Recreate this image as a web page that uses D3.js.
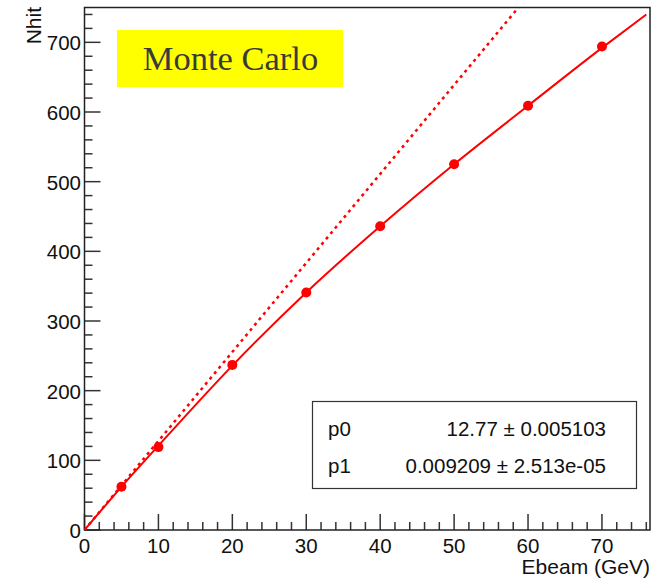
<!DOCTYPE html>
<html>
<head>
<meta charset="utf-8">
<script src="https://cdn.jsdelivr.net/npm/d3@7"></script>
<style>
  body { margin: 0; background: #fff; }
  svg text { font-family: "Liberation Sans", Arial, sans-serif; fill: #111; }
</style>
</head>
<body>
<div id="viz-container"></div>
<script>
// measured points (Ebeam in GeV, Nhit)
const pointE = [5, 10, 20, 30, 40, 50, 60, 70];
const pointN = [62, 119, 237, 341, 436, 525, 609, 694];

// fitted curve
const fitE = [0, 5, 10, 20, 30, 40, 50, 60, 70, 76];
const fitN = [0, 62, 121, 236, 341, 436, 525, 609, 692, 740];

// linear extrapolation (dashed)
const lineE = [0, 58.7];
const lineN = [0, 750];

const xTicks = [0, 10, 20, 30, 40, 50, 60, 70];
const yTicks = [0, 100, 200, 300, 400, 500, 600, 700];

const statNames = ["p0", "p1"];
const statValues = ["12.77 \u00b1 0.005103", "0.009209 \u00b1 2.513e-05"];

const width = 664, height = 580;
const frameL = 84.5, frameR = 650, frameT = 7.5, frameB = 530;

const svg = d3.select("#viz-container")
    .append("svg")
    .attr("width", width)
    .attr("height", height);

const x = d3.scaleLinear().domain([0, 76.5]).range([frameL, frameR]);
const y = d3.scaleLinear().domain([0, 750]).range([frameB, frameT]);

svg.append("defs").append("clipPath").attr("id", "frame-clip")
    .append("rect")
    .attr("x", frameL).attr("y", frameT)
    .attr("width", frameR - frameL).attr("height", frameB - frameT);

// minor + major ticks drawn inside the frame, ROOT style
const xMinor = d3.range(0, 76.5, 2).filter(v => v % 10 !== 0);
const yMinor = d3.range(0, 750, 20).filter(v => v % 100 !== 0);

const ax = svg.append("g").attr("class", "axes").attr("stroke", "#333").attr("stroke-width", 1.5);

ax.selectAll("line.xmaj").data(xTicks).join("line")
    .attr("x1", d => x(d)).attr("x2", d => x(d))
    .attr("y1", frameB).attr("y2", frameB - 16);
ax.selectAll("line.xmin").data(xMinor).join("line")
    .attr("x1", d => x(d)).attr("x2", d => x(d))
    .attr("y1", frameB).attr("y2", frameB - 8);
ax.selectAll("line.ymaj").data(yTicks).join("line")
    .attr("y1", d => y(d)).attr("y2", d => y(d))
    .attr("x1", frameL).attr("x2", frameL + 16);
ax.selectAll("line.ymin").data(yMinor).join("line")
    .attr("y1", d => y(d)).attr("y2", d => y(d))
    .attr("x1", frameL).attr("x2", frameL + 8);

svg.append("rect")
    .attr("x", frameL).attr("y", frameT)
    .attr("width", frameR - frameL).attr("height", frameB - frameT)
    .attr("fill", "none")
    .attr("stroke", "#222")
    .attr("stroke-width", 1.5);

// tick labels
svg.append("g").selectAll("text").data(xTicks).join("text")
    .attr("x", d => x(d))
    .attr("y", 553)
    .attr("text-anchor", "middle")
    .attr("font-size", 20.5)
    .text(d => d);

svg.append("g").selectAll("text").data(yTicks).join("text")
    .attr("x", 81)
    .attr("y", d => y(d) + 8)
    .attr("text-anchor", "end")
    .attr("font-size", 20.5)
    .text(d => d);

// axis titles
svg.append("text")
    .attr("transform", "translate(41,7) rotate(-90)")
    .attr("text-anchor", "end")
    .attr("font-size", 21)
    .text("Nhit");

svg.append("text")
    .attr("x", 650)
    .attr("y", 574)
    .attr("text-anchor", "end")
    .attr("font-size", 21)
    .text("Ebeam (GeV)");

// curves
const plot = svg.append("g").attr("clip-path", "url(#frame-clip)");

const lineGen = d3.line().x(d => x(d[0])).y(d => y(d[1]));

plot.append("path")
    .datum(d3.zip(lineE, lineN))
    .attr("d", lineGen)
    .attr("fill", "none")
    .attr("stroke", "#ff0000")
    .attr("stroke-width", 2.5)
    .attr("stroke-dasharray", "3,4");

plot.append("path")
    .datum(d3.zip(fitE, fitN))
    .attr("d", lineGen.curve(d3.curveMonotoneX))
    .attr("fill", "none")
    .attr("stroke", "#ff0000")
    .attr("stroke-width", 2);

plot.append("g").selectAll("circle")
    .data(d3.zip(pointE, pointN))
    .join("circle")
    .attr("cx", d => x(d[0]))
    .attr("cy", d => y(d[1]))
    .attr("r", 5)
    .attr("fill", "#ff0000");

// title box
svg.append("rect")
    .attr("x", 117).attr("y", 30)
    .attr("width", 226).attr("height", 57)
    .attr("fill", "#ffff00");
svg.append("text")
    .attr("x", 230.5)
    .attr("y", 70)
    .attr("text-anchor", "middle")
    .attr("font-size", 34.5)
    .style("font-family", "'Liberation Serif', 'Times New Roman', serif")
    .style("fill", "#3a3a3a")
    .text("Monte Carlo");

// fit parameter box
svg.append("rect")
    .attr("x", 312.5).attr("y", 401.5)
    .attr("width", 324).attr("height", 87)
    .attr("fill", "#fff")
    .attr("stroke", "#333")
    .attr("stroke-width", 1.2);

const stat = svg.append("g");
stat.selectAll("text.name").data(statNames).join("text")
    .attr("x", 328)
    .attr("y", (d, i) => 436 + i * 37)
    .attr("font-size", 20.5)
    .text(d => d);
stat.selectAll("text.val").data(statValues).join("text")
    .attr("x", 606)
    .attr("y", (d, i) => 436 + i * 37)
    .attr("text-anchor", "end")
    .attr("font-size", 20.5)
    .text(d => d);
</script>
</body>
</html>
